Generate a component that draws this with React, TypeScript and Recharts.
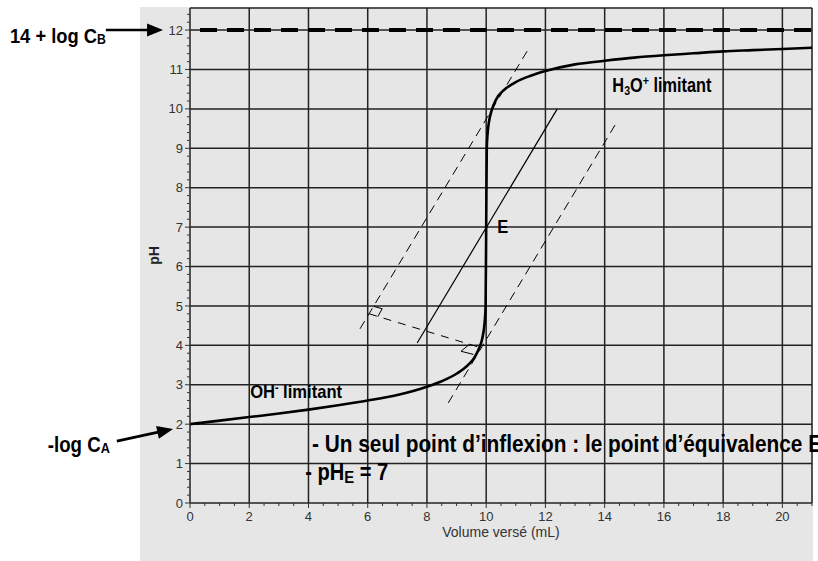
import React from "react";
import {
  LineChart,
  Line,
  XAxis,
  YAxis,
  CartesianGrid,
  ReferenceLine,
  ReferenceDot,
} from "recharts";

// titration curve
const volumes = [
  0, 1, 2, 3, 4, 5, 6, 7, 8, 8.5, 9, 9.4, 9.6, 9.75, 9.84, 9.9, 9.95, 9.98, 10,
  10.02, 10.05, 10.1, 10.16, 10.25, 10.4, 10.6, 11, 11.5, 12, 13, 14, 15, 16, 17,
  18, 19, 20, 21,
];
const phValues = [
  2.0, 2.09, 2.18, 2.27, 2.37, 2.48, 2.6, 2.74, 2.95, 3.09, 3.28, 3.51, 3.69,
  3.91, 4.09, 4.3, 4.6, 5.0, 7.0, 9.0, 9.4, 9.7, 9.9, 10.1, 10.32, 10.48, 10.68,
  10.84, 10.96, 11.13, 11.22, 11.3, 11.36, 11.41, 11.46, 11.49, 11.52, 11.55,
];

const xMajorTicks = [0, 2, 4, 6, 8, 10, 12, 14, 16, 18, 20];
const yMajorTicks = [0, 1, 2, 3, 4, 5, 6, 7, 8, 9, 10, 11, 12];
const xTicks = Array.from({ length: 43 }, (_, i) => i / 2);
const yTicks = Array.from({ length: 63 }, (_, i) => Math.round(i * 2) / 10);
const gridX = [2, 4, 6, 8, 10, 12, 14, 16, 18, 20, 21];
const gridY = [1, 2, 3, 4, 5, 6, 7, 8, 9, 10, 11, 12, 12.56];

const basePH = 12; // 14 + log CB

// construction lines (data coordinates)
const tangentLeft = [{ x: 5.74, y: 4.42 }, { x: 11.45, y: 11.55 }];
const tangentMid = [{ x: 7.67, y: 4.06 }, { x: 12.4, y: 10.0 }];
const tangentRight = [{ x: 8.72, y: 2.54 }, { x: 14.39, y: 9.64 }];
const perpLine = [{ x: 6.05, y: 4.8 }, { x: 9.73, y: 3.96 }];
const squareLeft = [
  [{ x: 6.2, y: 4.99 }, { x: 6.49, y: 4.93 }],
  [{ x: 6.49, y: 4.93 }, { x: 6.34, y: 4.73 }],
];
const squareRight = [
  [{ x: 9.44, y: 4.03 }, { x: 9.15, y: 3.85 }],
  [{ x: 9.15, y: 3.85 }, { x: 9.57, y: 3.77 }],
];
const arrowCB = [{ x: -2.84, y: 12 }, { x: -0.91, y: 12 }];
const arrowCA = [{ x: -2.47, y: 1.57 }, { x: -0.57, y: 1.88 }];

const data = volumes.map((v, i) => ({ v, pH: phValues[i] }));

const SANS = "'Liberation Sans', Arial, sans-serif";
const NARROW = "'Liberation Sans Narrow', 'Arial Narrow', 'Liberation Sans', Arial, sans-serif";
const INK = "#222";

const XTick = (props: any) => {
  const { x, y, payload } = props;
  const v = payload.value;
  const major = xMajorTicks.includes(v);
  return (
    <g>
      <line x1={x} x2={x} y1={y} y2={y + (major ? 5 : 3)} stroke="#333" />
      {major && (
        <text x={x} y={y + 17.7} textAnchor="middle" fontSize={13} fill="#333" fontFamily={SANS}>
          {v}
        </text>
      )}
    </g>
  );
};

const YTick = (props: any) => {
  const { x, y, payload } = props;
  const v = payload.value;
  const major = yMajorTicks.includes(v);
  return (
    <g>
      <line x1={x - (major ? 5 : 3)} x2={x} y1={y} y2={y} stroke="#333" />
      {major && (
        <text x={x - 7} y={y + 4.6} textAnchor="end" fontSize={13} fill="#333" fontFamily={SANS}>
          {v}
        </text>
      )}
    </g>
  );
};

const arrowShape = (p: any) => {
  const { x1, y1, x2, y2 } = p;
  const a = Math.atan2(y2 - y1, x2 - x1);
  const L = 16;
  const W = 6.5;
  const bx = x2 - L * Math.cos(a);
  const by = y2 - L * Math.sin(a);
  const pts = [
    [x2, y2],
    [bx + W * Math.sin(a), by - W * Math.cos(a)],
    [bx - W * Math.sin(a), by + W * Math.cos(a)],
  ]
    .map((q) => q.join(","))
    .join(" ");
  return (
    <g>
      <line x1={x1} y1={y1} x2={bx + 2 * Math.cos(a)} y2={by + 2 * Math.sin(a)} stroke="#000" strokeWidth={2.6} />
      <polygon points={pts} fill="#000" />
    </g>
  );
};

const note = (content: React.ReactNode, size: number, length?: number) => (p: any) => (
  <text
    x={p.cx}
    y={p.cy}
    fontSize={size}
    fontWeight="bold"
    fontFamily={NARROW}
    fill="#000"
    textLength={length}
    lengthAdjust={length ? "spacingAndGlyphs" : undefined}
  >
    {content}
  </text>
);

export default function App() {
  return (
    <div style={{ position: "absolute", left: 0, top: 0, width: 818, height: 561, background: "#fff", overflow: "hidden" }}>
      <div style={{ position: "absolute", left: 140, top: 7, width: 673, height: 554, background: "#e6e6e6" }} />
      <div style={{ position: "absolute", left: 0, top: 0 }}>
        <LineChart width={818} height={561} data={data} margin={{ top: 8, right: 6, bottom: 0, left: 140 }}>
          <CartesianGrid
            horizontalValues={gridY}
            verticalValues={gridX}
            stroke={INK}
            strokeWidth={1.5}
          />
          <XAxis
            dataKey="v"
            type="number"
            domain={[0, 21]}
            ticks={xTicks}
            interval={0}
            tickSize={0}
            tickMargin={0}
            tick={<XTick />}
            height={58}
            allowDataOverflow
            axisLine={{ stroke: INK, strokeWidth: 1.5 }}
            label={{ value: "Volume versé (mL)", position: "insideBottom", offset: 24, fontSize: 14, fill: "#333", fontFamily: SANS }}
          />
          <YAxis
            type="number"
            domain={[0, 12.56]}
            ticks={yTicks}
            interval={0}
            tickSize={0}
            tickMargin={0}
            tick={<YTick />}
            width={50}
            allowDataOverflow
            axisLine={{ stroke: INK, strokeWidth: 1.5 }}
            label={{
              content: (lp: any) => {
                const vb = lp.viewBox;
                const cx = vb.x + 19;
                const cy = vb.y + vb.height / 2;
                return (
                  <text
                    transform={`translate(${cx},${cy}) rotate(-90)`}
                    textAnchor="middle"
                    fontSize={14}
                    fontWeight="bold"
                    fontFamily={SANS}
                    fill="#222"
                  >
                    pH
                  </text>
                );
              },
            }}
          />
          <ReferenceLine y={basePH} stroke="#000" strokeWidth={4} strokeDasharray="17 10" strokeDashoffset={17} />
          <ReferenceLine segment={tangentLeft} stroke="#000" strokeWidth={1} strokeDasharray="9 6" />
          <ReferenceLine segment={tangentMid} stroke="#000" strokeWidth={1.2} />
          <ReferenceLine segment={tangentRight} stroke="#000" strokeWidth={1} strokeDasharray="9 6" />
          <ReferenceLine segment={perpLine} stroke="#000" strokeWidth={1} strokeDasharray="8 7" />
          {[...squareLeft, ...squareRight].map((s, i) => (
            <ReferenceLine key={i} segment={s} stroke="#000" strokeWidth={1} />
          ))}
          <ReferenceLine segment={arrowCB} ifOverflow="visible" shape={arrowShape} />
          <ReferenceLine segment={arrowCA} ifOverflow="visible" shape={arrowShape} />
          <Line
            dataKey="pH"
            type="monotone"
            stroke="#000"
            strokeWidth={2.6}
            dot={false}
            isAnimationActive={false}
          />
          <ReferenceDot
            x={-6.08}
            y={11.67}
            r={0}
            ifOverflow="visible"
            shape={note(
              <>
                14 + log C<tspan fontSize={14} dy={1}>B</tspan>
              </>,
              21,
              96
            )}
          />
          <ReferenceDot
            x={-4.8}
            y={1.29}
            r={0}
            ifOverflow="visible"
            shape={note(
              <>
                -log C<tspan fontSize={15} dy={1}>A</tspan>
              </>,
              22,
              62
            )}
          />
          <ReferenceDot
            x={2.03}
            y={2.66}
            r={0}
            shape={note(
              <>
                OH<tspan fontSize={12} dy={-6}>-</tspan>
                <tspan dy={6}> limitant</tspan>
              </>,
              19,
              92
            )}
          />
          <ReferenceDot
            x={14.26}
            y={10.43}
            r={0}
            shape={note(
              <>
                H<tspan fontSize={13} dy={3}>3</tspan>
                <tspan dy={-3}>O</tspan>
                <tspan fontSize={13} dy={-7}>+</tspan>
                <tspan dy={7}> limitant</tspan>
              </>,
              20,
              99
            )}
          />
          <ReferenceDot x={10.37} y={6.85} r={0} shape={note("E", 19, 11)} />
          <ReferenceDot
            x={4.12}
            y={1.29}
            r={0}
            shape={note("- Un seul point d’inflexion : le point d’équivalence E", 23, 510)}
          />
          <ReferenceDot
            x={3.89}
            y={0.58}
            r={0}
            shape={note(
              <>
                - pH<tspan fontSize={17} dy={3}>E</tspan>
                <tspan dy={-3}> = 7</tspan>
              </>,
              23,
              83
            )}
          />
        </LineChart>
      </div>
    </div>
  );
}
